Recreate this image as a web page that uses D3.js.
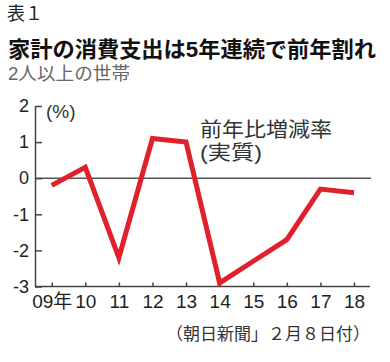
<!DOCTYPE html>
<html lang="ja">
<head>
<meta charset="UTF-8">
<title>家計の消費支出</title>
<style>
  body { margin: 0; background: #fff; }
  svg text { font-family: "Liberation Sans", Arial, "Noto Sans CJK JP", sans-serif; }
  .serif { font-family: "Liberation Serif", "Noto Sans CJK JP", serif; }
</style>
</head>
<body>
<div id="chart"></div>
<script src="https://d3js.org/d3.v7.min.js"></script>
<script>
// data
const years = [2009, 2010, 2011, 2012, 2013, 2014, 2015, 2016, 2017, 2018];
const yearLabels = ["09年", "10", "11", "12", "13", "14", "15", "16", "17", "18"];
const change = [-0.2, 0.3, -2.2, 1.1, 1.0, -2.9, -2.3, -1.7, -0.3, -0.4];
const yTicks = [2, 1, 0, -1, -2, -3];

const width = 390, height = 362;

const svg = d3.select("#chart").append("svg")
    .attr("width", width)
    .attr("height", height);

const x = d3.scalePoint().domain(years).range([51.7, 354]);
const y = d3.scaleLinear().domain([-3, 2]).range([286.5, 106]);

// headings
svg.append("text").attr("class", "serif")
    .attr("x", 7).attr("y", 20)
    .attr("font-size", 18).attr("fill", "#222")
    .text("表１");

svg.append("text")
    .attr("x", 8).attr("y", 57)
    .attr("font-size", 22).attr("font-weight", "bold").attr("fill", "#111")
    .attr("textLength", 368).attr("lengthAdjust", "spacingAndGlyphs")
    .text("家計の消費支出は5年連続で前年割れ");

svg.append("text")
    .attr("x", 8).attr("y", 80)
    .attr("font-size", 18).attr("fill", "#666")
    .attr("textLength", 122).attr("lengthAdjust", "spacingAndGlyphs")
    .text("2人以上の世帯");

// zero line
svg.append("line")
    .attr("x1", 35).attr("x2", 371)
    .attr("y1", y(0)).attr("y2", y(0))
    .attr("stroke", "#555").attr("stroke-width", 1.6);

// axes
const yAxis = svg.append("g")
    .attr("transform", "translate(35,0)")
    .call(d3.axisLeft(y).tickValues(yTicks).tickSizeInner(-7).tickSizeOuter(0).tickPadding(6)
        .tickFormat(d => String(d)));

const xAxis = svg.append("g")
    .attr("transform", `translate(0,${y(-3)})`)
    .call(d3.axisBottom(x).tickSizeInner(-4).tickSizeOuter(0).tickPadding(8)
        .tickFormat((d, i) => yearLabels[i]));

xAxis.select(".domain").attr("d", `M35,0H370`);

[yAxis, xAxis].forEach(g => {
    g.selectAll("path, line").attr("stroke", "#444").attr("stroke-width", 1.5);
    g.selectAll("text").attr("fill", "#222").attr("font-family", null);
});
yAxis.selectAll("text").attr("font-size", 18);
xAxis.selectAll("text").attr("font-size", 19);

svg.append("text")
    .attr("x", 46).attr("y", 118)
    .attr("font-size", 19).attr("fill", "#333")
    .text("(%)");

// line
const line = d3.line()
    .x((d, i) => x(years[i]))
    .y(d => y(d));

svg.append("path")
    .datum(change)
    .attr("d", line)
    .attr("fill", "none")
    .attr("stroke", "#e0202a")
    .attr("stroke-width", 5)
    .attr("stroke-linejoin", "miter");

// annotation
svg.append("text")
    .attr("x", 200).attr("y", 137)
    .attr("font-size", 20).attr("fill", "#333")
    .attr("textLength", 132).attr("lengthAdjust", "spacingAndGlyphs")
    .text("前年比増減率");
svg.append("text")
    .attr("x", 200).attr("y", 160)
    .attr("font-size", 20).attr("fill", "#333")
    .attr("textLength", 62).attr("lengthAdjust", "spacingAndGlyphs")
    .text("(実質)");

// source
svg.append("text").attr("class", "serif")
    .attr("x", 166).attr("y", 340)
    .attr("font-size", 17).attr("fill", "#333")
    .text("（朝日新聞」２月８日付）");
</script>
</body>
</html>
